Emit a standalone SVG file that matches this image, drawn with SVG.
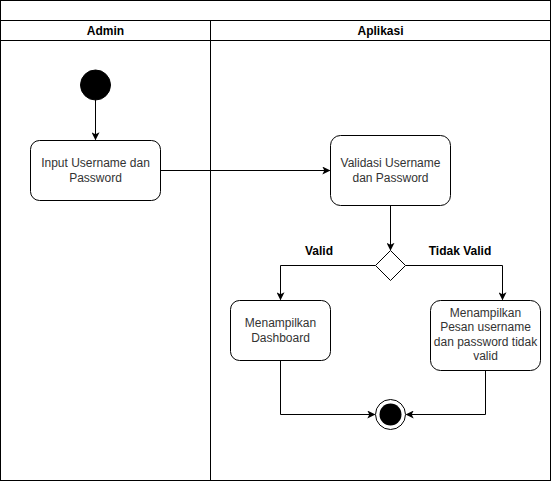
<svg xmlns="http://www.w3.org/2000/svg" width="551" height="481" viewBox="0 0 551 481">
<style>
.frame{fill:#fff;stroke:#000;stroke-width:1}
.node{fill:#fff;stroke:#000;stroke-width:1}
.hdr{font-family:"Liberation Sans",Arial,sans-serif;font-size:12px;font-weight:bold;fill:#000;text-anchor:middle}
.txt{font-family:"Liberation Sans",Arial,sans-serif;font-size:12px;fill:#333;text-anchor:middle}
.edge{fill:none;stroke:#000;stroke-width:1}
</style>
<defs>
<marker id="arr" viewBox="0 0 10 10" refX="9" refY="5" markerWidth="8" markerHeight="8" markerUnits="userSpaceOnUse" orient="auto">
<path d="M0,0 L10,5 L0,10 L2.5,5 Z" fill="#000"/>
</marker>
</defs>
<rect width="551" height="481" fill="#fff"/>
<g id="pool">
<rect class="frame" x="0.5" y="0.5" width="550" height="480"/>
<line x1="0.5" y1="20.5" x2="550.5" y2="20.5" stroke="#000"/>
<line x1="0.5" y1="40.5" x2="550.5" y2="40.5" stroke="#000"/>
<line x1="210.5" y1="20.5" x2="210.5" y2="480.5" stroke="#000"/>
<text class="hdr" x="105.5" y="35">Admin</text>
<text class="hdr" x="380.5" y="35">Aplikasi</text>
</g>
<g id="connectors">
<line class="edge" x1="95.5" y1="100" x2="95.5" y2="139.5" marker-end="url(#arr)"/>
<line class="edge" x1="160.5" y1="170.5" x2="329.5" y2="170.5" marker-end="url(#arr)"/>
<line class="edge" x1="390.5" y1="205.5" x2="390.5" y2="250" marker-end="url(#arr)"/>
<polyline class="edge" points="375.5,265.5 280.5,265.5 280.5,299.5" marker-end="url(#arr)"/>
<polyline class="edge" points="405.5,265.5 502.5,265.5 502.5,299.5" marker-end="url(#arr)"/>
<polyline class="edge" points="280.5,360.5 280.5,414.5 374.5,414.5" marker-end="url(#arr)"/>
<polyline class="edge" points="485.5,370.5 485.5,414.5 406.5,414.5" marker-end="url(#arr)"/>
<text class="hdr" x="319" y="255">Valid</text>
<text class="hdr" x="460" y="255">Tidak Valid</text>
</g>
<g id="start">
<circle cx="95.5" cy="85" r="15" fill="#000" stroke="#000"/>
</g>
<g id="input">
<rect class="node" x="30.5" y="140.5" width="130" height="60" rx="9"/>
<text class="txt" x="95.5" y="167">Input Username dan</text>
<text class="txt" x="95.5" y="182">Password</text>
</g>
<g id="validasi">
<rect class="node" x="330.5" y="135.5" width="120" height="70" rx="10"/>
<text class="txt" x="390.5" y="167">Validasi Username</text>
<text class="txt" x="390.5" y="182">dan Password</text>
</g>
<g id="decision">
<polygon class="node" points="390.5,250.5 405.5,265.5 390.5,280.5 375.5,265.5"/>
</g>
<g id="dashboard">
<rect class="node" x="230.5" y="300.5" width="100" height="60" rx="9"/>
<text class="txt" x="280.5" y="327">Menampilkan</text>
<text class="txt" x="280.5" y="342">Dashboard</text>
</g>
<g id="pesan">
<rect class="node" x="430.5" y="300.5" width="110" height="70" rx="10"/>
<text class="txt" x="485.5" y="317">Menampilkan</text>
<text class="txt" x="485.5" y="331">Pesan username</text>
<text class="txt" x="485.5" y="346">dan password tidak</text>
<text class="txt" x="485.5" y="360">valid</text>
</g>
<g id="end">
<circle cx="390.5" cy="414.5" r="15" fill="#fff" stroke="#000"/>
<circle cx="390.5" cy="414.5" r="11" fill="#000"/>
</g>
</svg>
